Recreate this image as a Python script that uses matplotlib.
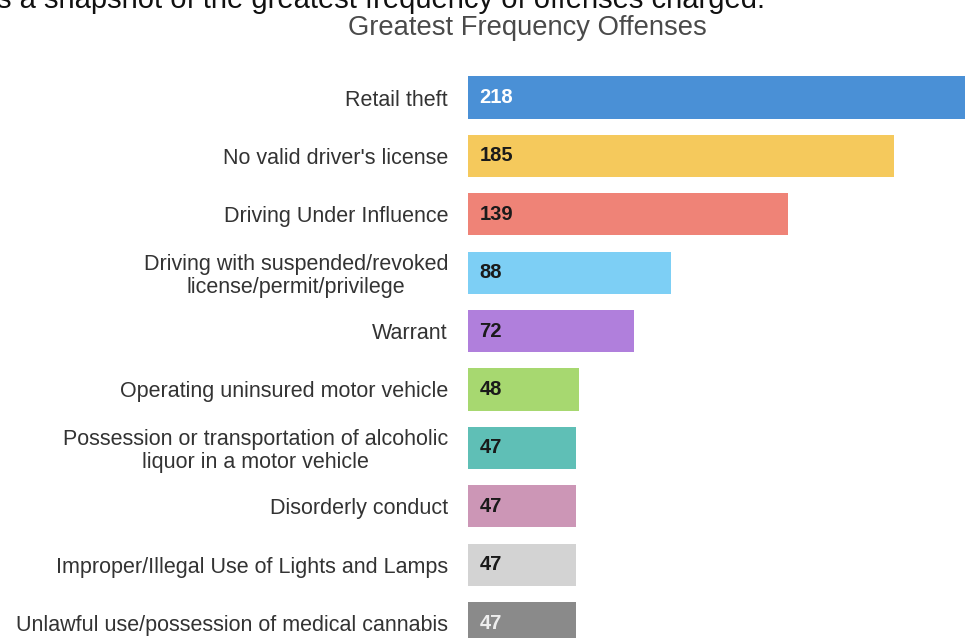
import matplotlib.pyplot as plt

plt.rcParams['font.family'] = ['Liberation Sans', 'DejaVu Sans']

# Offense categories and counts
offenses = [
    "Retail theft",
    "No valid driver's license",
    "Driving Under Influence",
    "Driving with suspended/revoked\nlicense/permit/privilege",
    "Warrant",
    "Operating uninsured motor vehicle",
    "Possession or transportation of alcoholic\nliquor in a motor vehicle",
    "Disorderly conduct",
    "Improper/Illegal Use of Lights and Lamps",
    "Unlawful use/possession of medical cannabis",
]
counts = [218, 185, 139, 88, 72, 48, 47, 47, 47, 47]
colors = ['#4a90d6', '#f5c95c', '#ef8377', '#7dcff5', '#b07fdc',
          '#a7d870', '#5fbfb6', '#cc96b6', '#d3d3d3', '#8a8a8a']
label_colors = ['white', '#1a1a1a', '#1a1a1a', '#1a1a1a', '#1a1a1a',
                '#1a1a1a', '#1a1a1a', '#1a1a1a', '#1a1a1a', '#eeeeee']

W, H = 965, 638
fig = plt.figure(figsize=(W / 100, H / 100), dpi=100)

# axes placed in pixel terms: bars start at x=468, first bar centre at y=97.5
px_per_unit = 2.303
row = 58.4
top = 97.5
ax = fig.add_axes([468 / W, 0, 1 - 468 / W, 1])
ax.set_xlim(0, (W - 468) / px_per_unit)
ax.set_ylim((H - top) / row, -top / row)

y = list(range(len(offenses)))
ax.barh(y, counts, height=0.72, color=colors)

for i, (v, c) in enumerate(zip(counts, label_colors)):
    ax.text(5.0, i, str(v), va='center', ha='left', fontsize=14.5,
            fontweight='bold', color=c)

ax.set_yticks(y)
ax.set_yticklabels(offenses, fontsize=15.5, color='#333333',
                   multialignment='center', linespacing=1.1)
ax.tick_params(axis='y', length=0, pad=14.4)
ax.set_xticks([])
for s in ax.spines.values():
    s.set_visible(False)

fig.text(527 / W, 1 - 35 / H, "Greatest Frequency Offenses", ha='center',
         va='baseline', fontsize=19.7, color='#4a4a4a')
fig.text(-3 / W, 1 - 8 / H,
         "s a snapshot of the greatest frequency of offenses charged.",
         ha='left', va='baseline', fontsize=21, color='#111111')

fig.savefig('out.png', dpi=100)
